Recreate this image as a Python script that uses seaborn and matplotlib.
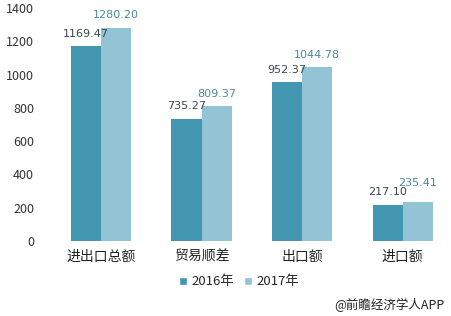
import matplotlib
matplotlib.use("Agg")
import matplotlib.pyplot as plt
import seaborn as sns
import pandas as pd
from matplotlib.patches import Patch

categories = ["进出口总额", "贸易顺差", "出口额", "进口额"]
series_names = ["2016年", "2017年"]
values_2016 = [1169.47, 735.27, 952.37, 217.10]
values_2017 = [1280.20, 809.37, 1044.78, 235.41]
yticks = [0, 200, 400, 600, 800, 1000, 1200, 1400]

sns.set_theme(style="white")
plt.rcParams['font.family'] = ['Noto Sans CJK SC', 'DejaVu Sans']

df = pd.DataFrame({
    "cat": categories * 2,
    "year": [series_names[0]] * 4 + [series_names[1]] * 4,
    "val": values_2016 + values_2017,
})

c16 = "#4497B0"
c17 = "#93C4D6"

fig = plt.figure(figsize=(4.51, 3.16), dpi=100)
ax = fig.add_axes([0.088, 0.237, 0.912, 0.738])
sns.barplot(data=df, x="cat", y="val", hue="year", palette=[c16, c17],
            width=0.6, saturation=1, linewidth=0, ax=ax, legend=False)

extra = [0, 0, 0, 40]
for j, (vals, col) in enumerate([(values_2016, "#3A4650"), (values_2017, "#4A8A9C")]):
    for i, v in enumerate(vals):
        x = i + (-0.15 if j == 0 else 0.15)
        lift = extra[i] if j == 1 else 0
        ax.text(x, v + 45 + lift, f"{v:.2f}", ha="center", va="bottom", fontsize=8,
                color=col, family="DejaVu Sans")

ax.set_ylim(0, 1400)
ax.set_xlim(-0.61, 3.48)
ax.set_yticks(yticks)
ax.set_yticklabels([str(t) for t in yticks], fontsize=9, color="#333333")
ax.set_xticklabels(categories, fontsize=10, color="#222222")
ax.set_xlabel("")
ax.set_ylabel("")
for s in ax.spines.values():
    s.set_visible(False)
ax.tick_params(axis="x", length=0, pad=6)
ax.tick_params(axis="y", length=0, pad=4)

handles = [Patch(facecolor=c16, label=series_names[0]), Patch(facecolor=c17, label=series_names[1])]
fig.legend(handles=handles, loc="center", bbox_to_anchor=(0.53, 0.108), ncol=2, frameon=False,
           fontsize=9.5, handlelength=0.6, handleheight=0.6, handletextpad=0.3, columnspacing=0.8)

fig.text(0.985, 0.035, "@前瞻经济学人APP", ha="right", va="center", fontsize=9, color="#222222")

fig.savefig("out.png", dpi=100)
